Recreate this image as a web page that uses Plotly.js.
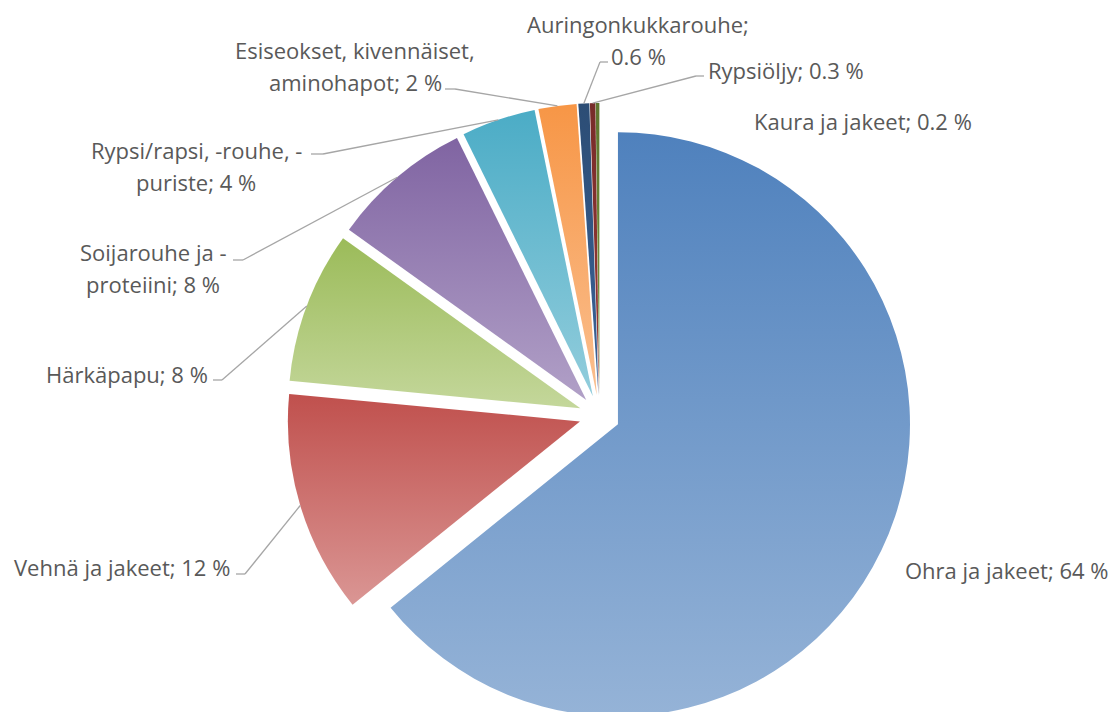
<!DOCTYPE html>
<html><head><meta charset="utf-8">
<script src="https://cdn.plot.ly/plotly-3.0.1.min.js"></script>
<style>
html,body{margin:0;padding:0;background:#fff;overflow:hidden}
#wrap{width:1113px;height:712px;overflow:hidden;position:relative}
</style>
</head><body>
<div id="wrap"><div id="chart" style="width:1113px;height:740px"></div></div>
<script>
// ---- data ----
const categories = ["Ohra ja jakeet", "Vehnä ja jakeet", "Härkäpapu", "Soijarouhe ja -proteiini",
  "Rypsi/rapsi, -rouhe, -puriste", "Esiseokset, kivennäiset, aminohapot", "Auringonkukkarouhe",
  "Rypsiöljy", "Kaura ja jakeet"];
const shares = [64.2, 12.3, 8.4, 7.8, 4.1, 2.1, 0.6, 0.3, 0.2];

// ---- styles ----
const topColors = ["#4F81BD", "#C0504D", "#9BBB59", "#8064A2", "#4BACC6", "#F79646", "#2C4D75", "#772C2A", "#5F7530"];
const bottomColors = ["#95B3D7", "#DA9694", "#C4D79B", "#B1A0C7", "#92CDDC", "#FABF8F", "#3A6398", "#9A3936", "#7A963C"];
const explode = 0.07;

// ---- label layout (pixel positions in the 1113x712 frame) ----
const lineBreaks = [-1, -1, -1, 15, 22, 24, 19, -1, -1];
const labelPos = [
  {x: 903, y: 570, anchor: 'left'},
  {x: 232, y: 567, anchor: 'right'},
  {x: 210, y: 374, anchor: 'right'},
  {x: 153, y: 252, anchor: 'center'},
  {x: 196, y: 150, anchor: 'center'},
  {x: 355, y: 50, anchor: 'center'},
  {x: 638, y: 24, anchor: 'center'},
  {x: 706, y: 70, anchor: 'left'},
  {x: 752, y: 121, anchor: 'left'}
];
const leaderFoot = [null, [236, 245, 574], [213, 222, 380], [233, 243, 260], [311, 323, 154],
  [445, 455, 89], [608, 600, 62], [704, 696, 76], null];
const lineGap = 32;

const M = {l: 86, r: 0, t: 103, b: 12};
const FIG_W = 1113, FIG_H = 740;
const W = FIG_W - M.l - M.r, H = FIG_H - M.t - M.b;
const px2x = p => (p - M.l) / W;
const py2y = p => 1 - (p - M.t) / H;

function fmt(v) { return v >= 1 ? String(Math.round(v)) : v.toFixed(1); }

const total = shares.reduce((a, b) => a + b, 0);
const R = Math.min(W, H) / 2 / (1 + explode);
const CX = M.l + W / 2, CY = M.t + H / 2;

const annotations = [];
const shapes = [];
const labelFont = {family: "'Open Sans', 'Noto Sans', sans-serif", size: 22, color: '#595959'};
let cum = 0;
shares.forEach((v, i) => {
  const full = categories[i] + '; ' + fmt(v) + ' %';
  let lines = [full];
  if (lineBreaks[i] > 0) lines = [full.slice(0, lineBreaks[i]).trim(), full.slice(lineBreaks[i]).trim()];
  const p = labelPos[i];
  lines.forEach((t, k) => {
    annotations.push({
      xref: 'paper', yref: 'paper', x: px2x(p.x), y: py2y(p.y + k * lineGap),
      xanchor: p.anchor, yanchor: 'middle', text: t, showarrow: false, font: labelFont
    });
  });
  const mid = (cum + v / 2) / total * 2 * Math.PI;
  cum += v;
  const f = leaderFoot[i];
  if (f) {
    const tx = CX + (1 + explode) * R * Math.sin(mid);
    const ty = CY - (1 + explode) * R * Math.cos(mid);
    const ln = {color: '#A6A6A6', width: 1.3};
    shapes.push({type: 'line', xref: 'paper', yref: 'paper', x0: px2x(f[0]), y0: py2y(f[2]), x1: px2x(f[1]), y1: py2y(f[2]), line: ln});
    shapes.push({type: 'line', xref: 'paper', yref: 'paper', x0: px2x(f[1]), y0: py2y(f[2]), x1: px2x(tx), y1: py2y(ty), line: ln});
  }
});

const data = [{
  type: 'pie',
  labels: categories,
  values: shares,
  sort: false,
  direction: 'clockwise',
  rotation: 0,
  pull: shares.map(() => explode),
  marker: {colors: topColors, line: {width: 0}},
  textinfo: 'none',
  hoverinfo: 'skip',
  showlegend: false,
  domain: {x: [0, 1], y: [0, 1]}
}];

const layout = {
  width: FIG_W, height: FIG_H,
  margin: M,
  paper_bgcolor: '#ffffff',
  plot_bgcolor: '#ffffff',
  showlegend: false,
  annotations: annotations,
  shapes: shapes
};

const gd = document.getElementById('chart');
Plotly.newPlot(gd, data, layout, {displayModeBar: false, staticPlot: true}).then(() => {
  const svg = gd.querySelector('svg.main-svg');
  let defs = svg.querySelector('defs');
  const NS = 'http://www.w3.org/2000/svg';
  gd.querySelectorAll('g.slice').forEach((g, idx) => {
    const d = g.__data__;
    const i = (d && d.i !== undefined) ? d.i : idx;
    const grad = document.createElementNS(NS, 'linearGradient');
    grad.setAttribute('id', 'sliceGrad' + i);
    grad.setAttribute('x1', '0'); grad.setAttribute('y1', '0');
    grad.setAttribute('x2', '0'); grad.setAttribute('y2', '1');
    [[0, topColors[i]], [1, bottomColors[i]]].forEach(([o, c]) => {
      const s = document.createElementNS(NS, 'stop');
      s.setAttribute('offset', o);
      s.setAttribute('stop-color', c);
      grad.appendChild(s);
    });
    defs.appendChild(grad);
    const path = g.querySelector('path.surface');
    if (path) path.style.fill = 'url(#sliceGrad' + i + ')';
  });
});
</script>
</body></html>
